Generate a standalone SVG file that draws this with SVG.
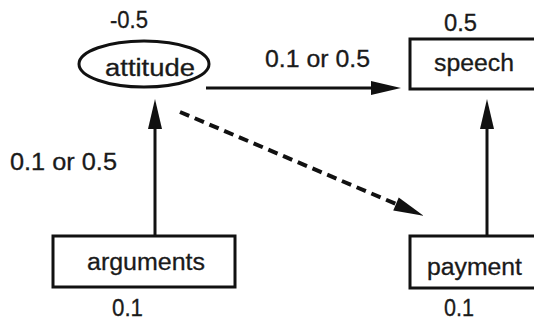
<svg xmlns="http://www.w3.org/2000/svg" width="534" height="322" viewBox="0 0 534 322">
<style>
  text { font-family: "Liberation Sans", Arial, sans-serif; font-size: 23px; fill: #1a1a1a; stroke: #1a1a1a; stroke-width: 0.3; }
  .node { fill: #fff; stroke: #111; stroke-width: 3; }
  .edge { stroke: #111; stroke-width: 3; fill: none; }
  .dash { stroke: #111; stroke-width: 4; fill: none; stroke-dasharray: 10 6; }
</style>
<defs>
  <marker id="arr" markerUnits="userSpaceOnUse" markerWidth="30" markerHeight="14" refX="0" refY="7" orient="auto" overflow="visible">
    <path d="M0,0 L30,7 L0,14 Z" fill="#111"/>
  </marker>
</defs>
<rect width="534" height="322" fill="#fff"/>
<g id="connectors">
  <line class="edge" x1="206" y1="88" x2="371" y2="88" marker-end="url(#arr)"/>
  <line class="edge" x1="155" y1="236" x2="155" y2="129" marker-end="url(#arr)"/>
  <line class="edge" x1="487" y1="236" x2="487" y2="129" marker-end="url(#arr)"/>
  <line class="dash" x1="180" y1="112" x2="396" y2="204" marker-end="url(#arr)"/>
  <text x="265" y="67" textLength="105" lengthAdjust="spacingAndGlyphs">0.1 or 0.5</text>
  <text x="10" y="170" textLength="107" lengthAdjust="spacingAndGlyphs">0.1 or 0.5</text>
</g>
<g id="attitude">
  <ellipse class="node" cx="144" cy="64" rx="65" ry="23"/>
  <text x="105" y="76" textLength="90" lengthAdjust="spacingAndGlyphs">attitude</text>
  <text x="110" y="28" textLength="38" lengthAdjust="spacingAndGlyphs">-0.5</text>
</g>
<g id="speech">
  <rect class="node" x="410" y="39" width="130" height="50"/>
  <text x="434" y="71" textLength="80" lengthAdjust="spacingAndGlyphs">speech</text>
  <text x="444" y="31" textLength="33" lengthAdjust="spacingAndGlyphs">0.5</text>
</g>
<g id="arguments">
  <rect class="node" x="53" y="236" width="182" height="51"/>
  <text x="87" y="270" textLength="118" lengthAdjust="spacingAndGlyphs">arguments</text>
  <text x="112" y="316" textLength="31" lengthAdjust="spacingAndGlyphs">0.1</text>
</g>
<g id="payment">
  <rect class="node" x="410" y="236" width="130" height="52"/>
  <text x="427" y="275" textLength="95" lengthAdjust="spacingAndGlyphs">payment</text>
  <text x="444" y="316" textLength="30" lengthAdjust="spacingAndGlyphs">0.1</text>
</g>
</svg>
